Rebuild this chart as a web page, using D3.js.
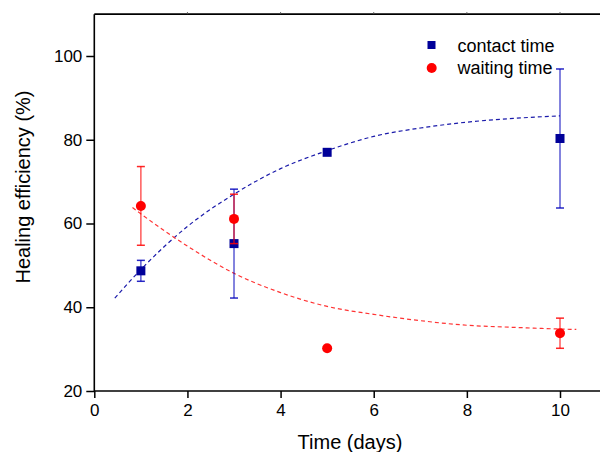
<!DOCTYPE html>
<html>
<head>
<meta charset="utf-8">
<script src="https://cdn.jsdelivr.net/npm/d3@7/dist/d3.min.js"></script>
<style>
  html, body { margin: 0; padding: 0; background: #fff; }
  svg { display: block; font-family: "Liberation Sans", Arial, sans-serif; }
</style>
</head>
<body>
<svg id="chart" width="600" height="452"></svg>
<script>
// Measured healing efficiency (%) against time (days)
const days = [1, 3, 5, 10];
const contactMean = [48.7, 55.2, 77.0, 80.3];
const contactErr  = [2.5, 13.0, 0, 16.6];
const waitingMean = [64.2, 61.1, 30.2, 33.8];
const waitingErr  = [9.4, 5.9, 0, 3.6];

// Fitted trend lines, sampled along each curve
const contactFitX = [0.44, 1, 2, 3, 4, 5, 6, 7, 8, 9, 10];
const contactFitY = [42.2, 49.0, 59.3, 67.0, 73.1, 77.4, 80.8, 82.8, 84.2, 85.1, 85.7];
const waitingFitX = [0.82, 1, 2, 3, 4, 5, 6, 7, 8, 9, 10, 10.35];
const waitingFitY = [63.8, 62.3, 54.6, 48.1, 43.5, 40.2, 38.3, 36.8, 35.7, 35.2, 34.8, 34.7];

const xTicks = [0, 2, 4, 6, 8, 10];
const yTicks = [20, 40, 60, 80, 100];

const svg = d3.select("#chart");

const x = d3.scaleLinear().domain([0, 10]).range([94.3, 560]);
const y = d3.scaleLinear().domain([20, 100]).range([391, 56]);

const blue = "#000099";
const red = "#ff0000";

// Axes
const xAxis = d3.axisBottom(x).tickValues(xTicks).tickSize(7).tickPadding(6).tickFormat(d3.format("d"));
const yAxis = d3.axisLeft(y).tickValues(yTicks).tickSize(8).tickPadding(4).tickFormat(d3.format("d"));

const gx = svg.append("g").attr("transform", `translate(0,${y(20)})`).call(xAxis);
const gy = svg.append("g").attr("transform", `translate(${x(0)},0)`).call(yAxis);
[gx, gy].forEach(g => {
  g.select(".domain").remove();
  g.selectAll(".tick line").attr("stroke", "#000").attr("stroke-width", 1.5);
  g.selectAll(".tick text").attr("font-size", 17).attr("fill", "#000")
    .attr("font-family", "'Liberation Sans', Arial, sans-serif");
});

// Frame lines: bottom, left and top
svg.append("line").attr("x1", x(0)).attr("x2", x(11)).attr("y1", y(20)).attr("y2", y(20))
  .attr("stroke", "#000").attr("stroke-width", 1.6);
svg.append("line").attr("x1", x(0)).attr("x2", x(0)).attr("y1", y(20)).attr("y2", y(110))
  .attr("stroke", "#000").attr("stroke-width", 1.6);
svg.append("line").attr("x1", x(0)).attr("x2", x(11)).attr("y1", y(110)).attr("y2", y(110))
  .attr("stroke", "#000").attr("stroke-width", 1.6);
// small ticks on the top edge
svg.append("g").selectAll("line").data(xTicks.slice(1)).join("line")
  .attr("x1", d => x(d)).attr("x2", d => x(d))
  .attr("y1", y(110)).attr("y2", y(110) - 2)
  .attr("stroke", "#555").attr("stroke-width", 1);

// Axis titles
svg.append("text").attr("x", 350).attr("y", 449).attr("text-anchor", "middle")
  .attr("font-size", 20).text("Time (days)");
svg.append("text").attr("transform", "translate(30,187) rotate(-90)").attr("text-anchor", "middle")
  .attr("font-size", 20).text("Healing efficiency (%)");

// Fit curves
const line = d3.line().x(d => x(d[0])).y(d => y(d[1])).curve(d3.curveMonotoneX);
svg.append("path").datum(contactFitX.map((v, i) => [v, contactFitY[i]]))
  .attr("d", line).attr("fill", "none").attr("stroke", "#1a1aaa")
  .attr("stroke-width", 1.2).attr("stroke-dasharray", "4,3");
svg.append("path").datum(waitingFitX.map((v, i) => [v, waitingFitY[i]]))
  .attr("d", line).attr("fill", "none").attr("stroke", "#ff3333")
  .attr("stroke-width", 1.2).attr("stroke-dasharray", "4,3");

// Error bars
function errorBars(means, errs, color) {
  const g = svg.append("g").attr("stroke", color).attr("stroke-width", 1.5).attr("stroke-opacity", 0.65);
  days.forEach((d, i) => {
    if (!errs[i]) return;
    const cx = x(d), top = y(means[i] + errs[i]), bot = y(means[i] - errs[i]);
    g.append("line").attr("x1", cx).attr("x2", cx).attr("y1", top).attr("y2", bot);
    [top, bot].forEach(yy => g.append("line").attr("x1", cx - 4).attr("x2", cx + 4)
      .attr("y1", yy).attr("y2", yy).attr("stroke-opacity", 0.85));
  });
}
errorBars(contactMean, contactErr, "#0000bb");
svg.append("g").selectAll("rect").data(days).join("rect")
  .attr("x", (d) => x(d) - 4.5).attr("y", (d, i) => y(contactMean[i]) - 4.5)
  .attr("width", 9).attr("height", 9).attr("fill", blue);
errorBars(waitingMean, waitingErr, "#ff0000");
svg.append("g").selectAll("circle").data(days).join("circle")
  .attr("cx", d => x(d)).attr("cy", (d, i) => y(waitingMean[i]))
  .attr("r", 5).attr("fill", red);

// Legend
svg.append("rect").attr("x", 427.5).attr("y", 41).attr("width", 8).attr("height", 8).attr("fill", blue);
svg.append("circle").attr("cx", 431.7).attr("cy", 68).attr("r", 5).attr("fill", red);
svg.append("text").attr("x", 457.5).attr("y", 51.5).attr("font-size", 18).text("contact time");
svg.append("text").attr("x", 457.5).attr("y", 74).attr("font-size", 18).text("waiting time");
</script>
</body>
</html>
